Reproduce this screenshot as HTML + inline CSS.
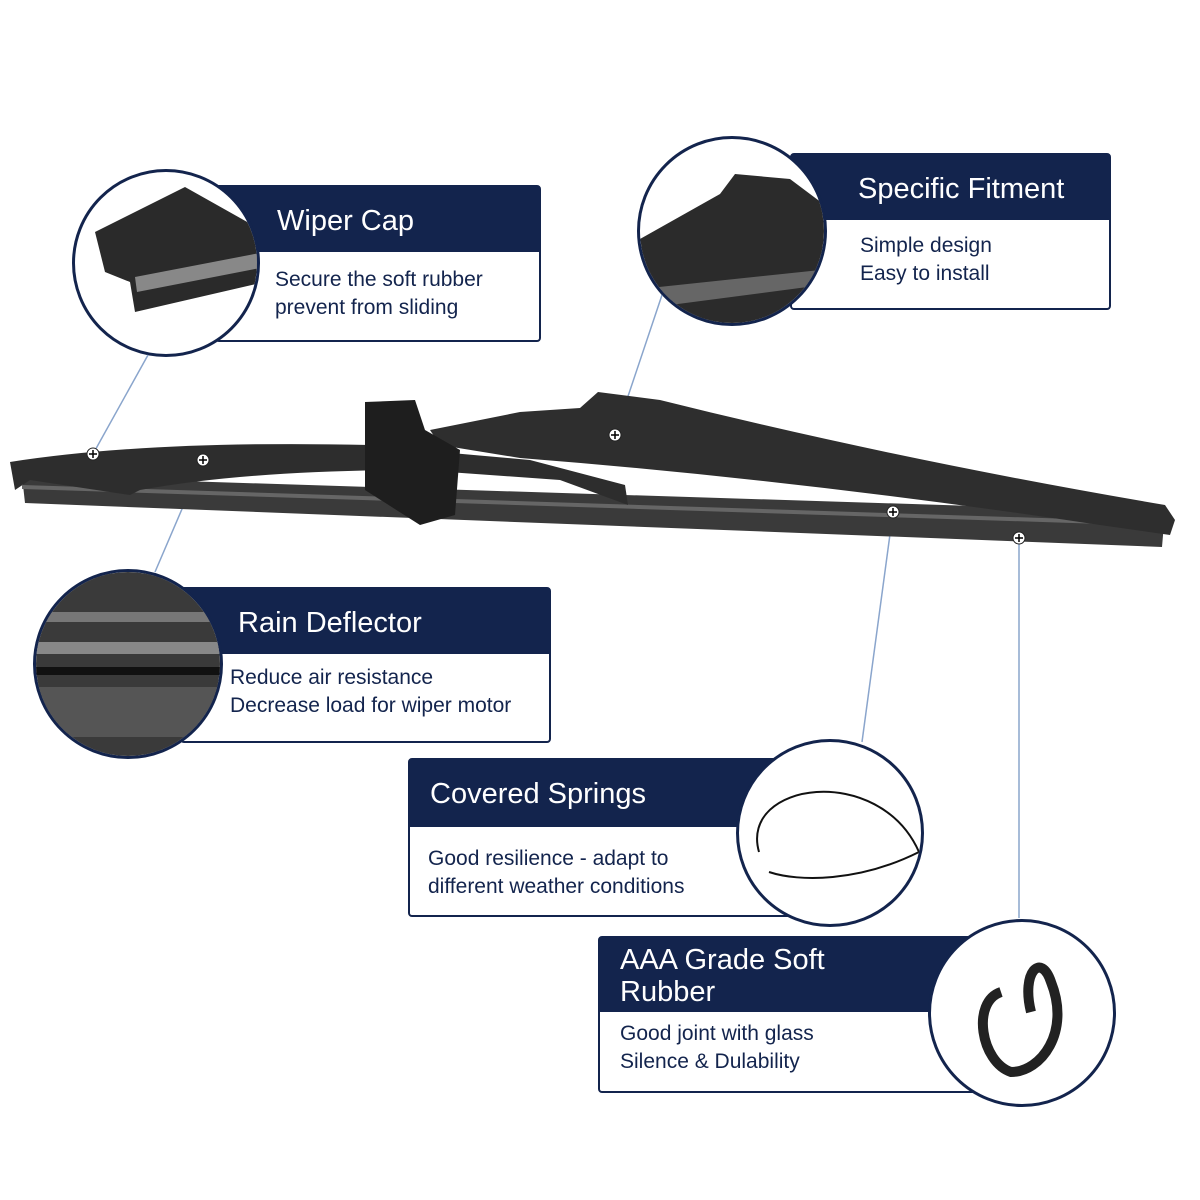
<!DOCTYPE html>
<html><head><meta charset="utf-8"><style>
body{margin:0;background:#fff;width:1200px;height:1200px;overflow:hidden;position:relative;font-family:"Liberation Sans",sans-serif}
.box{position:absolute;border:2px solid #13244d;background:#fff;box-sizing:border-box;border-radius:4px}
.hd{background:#13244d;color:#fff;font-size:29px;box-sizing:border-box}
.bd{color:#13244d;font-size:21px;line-height:28px}
.c{position:absolute;border:3px solid #13244d;border-radius:50%;background:#fff;box-sizing:border-box;overflow:hidden}
</style></head><body>
<div class="box" style="left:215px;top:185px;width:326px;height:157px"><div class="hd" style="height:65px;padding:18px 0 0 60px">Wiper Cap</div><div class="bd" style="padding:14px 0 0 58px">Secure the soft rubber<br>prevent from sliding</div></div>
<div class="box" style="left:790px;top:153px;width:321px;height:157px"><div class="hd" style="height:65px;padding:18px 0 0 66px">Specific Fitment</div><div class="bd" style="padding:12px 0 0 68px">Simple design<br>Easy to install</div></div>
<div class="box" style="left:180px;top:587px;width:371px;height:156px"><div class="hd" style="height:65px;padding:18px 0 0 56px">Rain Deflector</div><div class="bd" style="padding:10px 0 0 48px">Reduce air resistance<br>Decrease load for wiper motor</div></div>
<div class="box" style="left:408px;top:758px;width:385px;height:159px"><div class="hd" style="height:67px;padding:18px 0 0 20px">Covered Springs</div><div class="bd" style="padding:18px 0 0 18px">Good resilience - adapt to<br>different weather conditions</div></div>
<div class="box" style="left:598px;top:936px;width:380px;height:157px"><div class="hd" style="height:74px;padding:6px 0 0 20px;line-height:32px">AAA Grade Soft<br>Rubber</div><div class="bd" style="padding:8px 0 0 20px">Good joint with glass<br>Silence &amp; Dulability</div></div>

<div class="c" style="left:72px;top:169px;width:188px;height:188px"><svg width="188" height="188"><path d="M20 60 L110 15 L190 60 L190 110 L60 140 L55 110 L30 100 Z" fill="#2a2a2a"/><path d="M60 105 L190 80 L190 95 L62 120Z" fill="#888"/></svg></div>
<div class="c" style="left:637px;top:136px;width:190px;height:190px"><svg width="190" height="190"><path d="M0 100 L80 55 L95 35 L150 40 L190 70 L190 190 L0 190Z" fill="#2b2b2b"/><path d="M0 150 L190 130 L190 145 L0 170Z" fill="#666"/></svg></div>
<div class="c" style="left:33px;top:569px;width:190px;height:190px"><svg width="190" height="190"><rect width="190" height="190" fill="#3a3a3a"/><rect y="40" width="190" height="10" fill="#777"/><rect y="70" width="190" height="12" fill="#888"/><rect y="95" width="190" height="8" fill="#111"/><rect y="115" width="190" height="50" fill="#555"/></svg></div>
<div class="c" style="left:736px;top:739px;width:188px;height:188px"><svg width="188" height="188"><path d="M20 110 C0 40 140 20 180 110 C120 140 60 140 30 130" fill="none" stroke="#111" stroke-width="2"/></svg></div>
<div class="c" style="left:928px;top:919px;width:188px;height:188px"><svg width="188" height="188"><path d="M70 70 C40 80 50 140 80 150 C110 150 140 110 120 60 C110 30 90 50 100 90" fill="none" stroke="#222" stroke-width="10"/></svg></div>

<svg style="position:absolute;left:0;top:0" width="1200" height="1200">
<g stroke="#8aa5cc" stroke-width="1.5"><line x1="93" y1="454" x2="148" y2="355"/><line x1="203" y1="460" x2="155" y2="572"/><line x1="615" y1="435" x2="662" y2="295"/><line x1="893" y1="512" x2="862" y2="742"/><line x1="1019" y1="538" x2="1019" y2="918"/></g>
<path d="M22 476 L1165 512 L1162 547 L25 503Z" fill="#3a3a3a"/>
<path d="M22 485 L1165 522 L1165 526 L22 489Z" fill="#666"/>
<path d="M10 462 Q150 440 370 445 L440 452 L530 460 L625 485 L628 505 L560 480 L420 470 Q250 470 140 490 L130 495 L30 480 L15 490Z" fill="#2d2d2d"/>
<path d="M430 430 L520 412 L580 408 L598 392 L660 400 Q900 460 1165 505 L1175 520 L1170 535 L1100 525 Q800 480 520 458 L440 445Z" fill="#2e2e2e"/>
<path d="M365 402 L415 400 L425 430 L460 450 L455 515 L420 525 L365 490Z" fill="#1e1e1e"/>
<g fill="#fff" stroke="#222" stroke-width="1"><circle cx="93" cy="454" r="6"/><circle cx="203" cy="460" r="6"/><circle cx="615" cy="435" r="6"/><circle cx="893" cy="512" r="6"/><circle cx="1019" cy="538" r="6"/></g>
<g stroke="#000" stroke-width="1.5"><path d="M89 454h8M93 450v8M199 460h8M203 456v8M611 435h8M615 431v8M889 512h8M893 508v8M1015 538h8M1019 534v8"/></g>
</svg>
</body></html>
